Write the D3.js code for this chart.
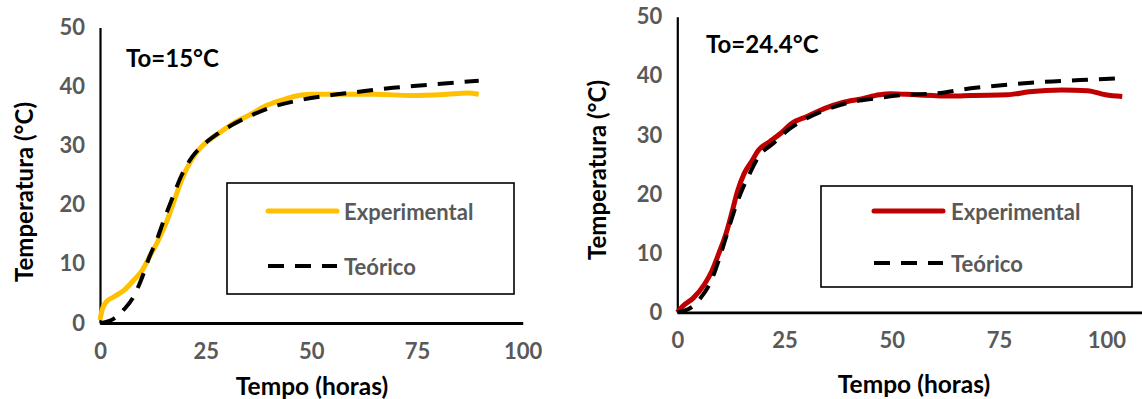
<!DOCTYPE html>
<html>
<head>
<meta charset="utf-8">
<script src="https://cdn.jsdelivr.net/npm/d3@7"></script>
<style>
  body { margin: 0; background: #fff; }
  svg { display: block; font-family: Lato, "Open Sans", sans-serif; font-weight: 700; }
</style>
</head>
<body>
<svg width="1142" height="399"></svg>
<script>
// data: tempo (horas), temperatura (°C)
var xTicks = [0, 25, 50, 75, 100];
var yTicks = [0, 10, 20, 30, 40, 50];

var exp15T = [0, 0.5, 1.5, 3.2, 5.8, 8.3, 10, 11.7, 13.8, 15.9, 17.6, 19.3, 21.8, 24.4, 26.9, 29.5, 32, 35.4, 38.8, 43, 46.4, 49.8, 56.6, 65, 73.5, 82, 87, 89.6];
var exp15V = [0.5, 2.2, 3.6, 4.4, 5.6, 7.5, 8.9, 11.2, 14, 17.4, 20.8, 24.2, 27.8, 30.1, 31.5, 32.8, 34, 35.2, 36.6, 37.7, 38.4, 38.7, 38.7, 38.7, 38.5, 38.7, 38.9, 38.7];
var teo15T = [0, 3.2, 5.8, 7.9, 10, 11.7, 13.4, 15.1, 17.2, 19.3, 21.8, 24.4, 27.8, 31.2, 35.4, 40.5, 47.2, 54, 60.8, 69.3, 77.7, 89.6];
var teo15V = [0, 0.7, 2.4, 4.4, 7.8, 11.2, 14, 17.4, 21.3, 25, 28.1, 30.1, 32, 33.5, 35, 36.5, 37.7, 38.5, 39.1, 39.8, 40.3, 41];

var exp24T = [0, 1.2, 3.7, 6.3, 8, 9.7, 11.4, 12.7, 14, 15.6, 17.3, 19, 21.6, 24.1, 26.7, 30.1, 34.4, 38.6, 42.9, 47.1, 49.7, 55.6, 64.1, 68.4, 76.9, 82, 89.6, 95.6, 99.8, 103.7];
var exp24V = [0, 1, 2.4, 4.7, 6.9, 10, 13.4, 16.8, 20.4, 23.5, 25.5, 27.5, 28.9, 30.3, 32, 33.1, 34.5, 35.5, 36.1, 36.8, 37, 36.8, 36.6, 36.7, 36.8, 37.3, 37.6, 37.5, 36.8, 36.5];
var teo24T = [0, 2.5, 5.4, 8, 9.7, 11.4, 13.1, 14.8, 16.9, 19, 22.4, 25.9, 30.1, 34.4, 39.5, 46.3, 53.1, 59.9, 68.4, 76.9, 85.4, 93.9, 103.7];
var teo24V = [0, 0.5, 2.4, 5.5, 8.9, 12.8, 16.8, 20.2, 23.5, 26.4, 28.6, 30.9, 32.8, 34.2, 35.4, 36.2, 36.8, 37, 37.9, 38.5, 39, 39.3, 39.6];

var seriesNames = ["Experimental", "Teórico"];

var svg = d3.select('svg');
var grey = '#595959';

function zip(t, v) { return t.map((d, i) => ({t: d, v: v[i]})); }

function drawChart(cfg) {
	var x = d3.scaleLinear().domain([0, cfg.xMax]).range([cfg.x0, cfg.x1]);
	var y = d3.scaleLinear().domain([0, 50]).range([cfg.y0, cfg.y1]);
	var g = svg.append('g');

	// axes
	var yAxis = g.append('g')
		.attr('transform', 'translate(' + cfg.x0 + ',0)')
		.call(d3.axisLeft(y).tickValues(yTicks).tickSize(0).tickPadding(cfg.tickPadY));
	yAxis.select('.domain').attr('stroke', '#000').attr('stroke-width', 2.2);

	var xAxis = g.append('g')
		.attr('transform', 'translate(0,' + cfg.y0 + ')')
		.call(d3.axisBottom(x).tickValues(xTicks).tickSize(0).tickPadding(cfg.tickPadX));
	xAxis.select('.domain').attr('stroke', '#000').attr('stroke-width', 2.8);

	g.selectAll('.tick text')
		.attr('fill', grey)
		.attr('font-size', 22)
		.attr('font-family', 'Lato, sans-serif')
		.attr('font-weight', 700);

	// lines
	var line = d3.line().x(d => x(d.t)).y(d => y(d.v)).curve(d3.curveMonotoneX);

	g.append('path')
		.datum(zip(cfg.expT, cfg.expV))
		.attr('fill', 'none')
		.attr('stroke', cfg.color)
		.attr('stroke-width', 5)
		.attr('stroke-linejoin', 'round')
		.attr('d', line);

	g.append('path')
		.datum(zip(cfg.teoT, cfg.teoV))
		.attr('fill', 'none')
		.attr('stroke', '#000')
		.attr('stroke-width', 4)
		.attr('stroke-dasharray', '16,11')
		.attr('d', line);

	// annotation
	g.append('text')
		.attr('x', cfg.labelX)
		.attr('y', cfg.labelY)
		.attr('font-size', 24)
		.attr('fill', '#000')
		.text(cfg.label);

	// axis titles
	g.append('text')
		.attr('x', cfg.xTitleX)
		.attr('y', cfg.xTitleY)
		.attr('text-anchor', 'middle')
		.attr('dominant-baseline', 'central')
		.attr('font-size', 24.5)
		.attr('fill', '#000')
		.text('Tempo (horas)');

	g.append('text')
		.attr('transform', 'translate(' + cfg.yTitleX + ',' + cfg.yTitleY + ') rotate(-90)')
		.attr('text-anchor', 'middle')
		.attr('dominant-baseline', 'central')
		.attr('font-size', 24)
		.attr('fill', '#000')
		.text('Temperatura (°C)');

	// legend
	var lg = cfg.legend;
	g.append('rect')
		.attr('x', lg.x).attr('y', lg.y)
		.attr('width', lg.w).attr('height', lg.h)
		.attr('fill', '#fff')
		.attr('stroke', '#000')
		.attr('stroke-width', 1.6);

	var items = g.selectAll('.leg')
		.data(seriesNames)
		.enter().append('g')
		.attr('transform', (d, i) => 'translate(' + (lg.x + lg.lineX) + ',' + (lg.y + lg.rowY[i]) + ')');

	items.append('line')
		.attr('x1', 0).attr('x2', lg.lineW)
		.attr('stroke', (d, i) => i === 0 ? cfg.color : '#000')
		.attr('stroke-width', (d, i) => i === 0 ? 5 : 4)
		.attr('stroke-linecap', (d, i) => i === 0 ? 'round' : 'butt')
		.attr('stroke-dasharray', (d, i) => i === 0 ? null : '16,11');

	items.append('text')
		.attr('x', lg.textX)
		.attr('dominant-baseline', 'central')
		.attr('font-size', 22)
		.attr('fill', grey)
		.text(d => d);
}

drawChart({
	xMax: 100, x0: 100, x1: 522.7, y0: 323, y1: 27.5,
	tickPadY: 15, tickPadX: 20,
	expT: exp15T, expV: exp15V, teoT: teo15T, teoV: teo15V,
	color: '#FFC000',
	label: 'To=15°C', labelX: 126, labelY: 66.5,
	xTitleX: 312, xTitleY: 385,
	yTitleX: 23, yTitleY: 192,
	legend: {x: 227, y: 183, w: 287, h: 111, lineX: 41, lineW: 69, textX: 76, rowY: [28, 83]}
});

drawChart({
	xMax: 108.3, x0: 677.3, x1: 1142, y0: 312.3, y1: 16.8,
	tickPadY: 15, tickPadX: 20,
	expT: exp24T, expV: exp24V, teoT: teo24T, teoV: teo24V,
	color: '#C00000',
	label: 'To=24.4°C', labelX: 706, labelY: 52.5,
	xTitleX: 914, xTitleY: 383,
	yTitleX: 596, yTitleY: 170,
	legend: {x: 821, y: 186, w: 311, h: 101, lineX: 53, lineW: 69, textX: 77, rowY: [25, 77]}
});
</script>
</body>
</html>
